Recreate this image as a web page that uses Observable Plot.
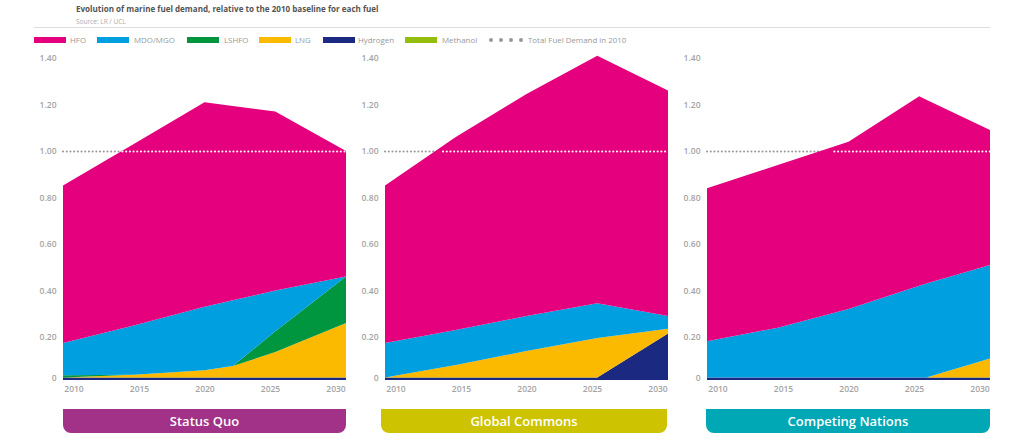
<!DOCTYPE html>
<html><head><meta charset="utf-8">
<script src="https://cdn.jsdelivr.net/npm/d3@7"></script>
<script src="https://cdn.jsdelivr.net/npm/@observablehq/plot@0.6"></script>
<style>
html,body{margin:0;padding:0;background:#fff;overflow:hidden}
body{width:1024px;height:445px;position:relative;font-family:"Open Sans",sans-serif}
#title{position:absolute;left:76px;top:3px;font-size:8.05px;font-weight:700;color:#555;white-space:nowrap}
#source{position:absolute;left:76px;top:17px;font-size:6.5px;color:#aaa}
#rule{position:absolute;left:34px;width:956px;top:27px;height:1px;background:#ddd}
#legend{position:absolute;left:0;top:34px;height:12px;font-size:7.9px;color:#999}
.k{position:absolute;top:0;line-height:13px;white-space:nowrap}
.s{position:absolute;top:3px;height:6px;width:32px}
.d{position:absolute;top:4px;width:4px;height:4px;border-radius:50%;background:#999}
#chart{position:absolute;left:0;top:48px}
.b{position:absolute;top:409px;height:24px;line-height:25px;border-radius:0 0 8px 8px;color:#fff;font-size:13px;font-weight:600;text-align:center}
</style></head><body>
<div id="title"></div><div id="source"></div><div id="rule"></div>
<div id="legend"></div><div id="chart"></div><div id="banners"></div>
<script>
const titleText = "Evolution of marine fuel demand, relative to the 2010 baseline for each fuel";
const sourceText = "Source: LR / UCL";
const fuels = ["Hydrogen","Methanol","LNG","LSHFO","MDO/MGO","HFO"];
const legendFuels = ["HFO","MDO/MGO","LSHFO","LNG","Hydrogen","Methanol"];
const fuelColors = ["#1b2a80","#95bd0e","#fbba00","#009640","#009fe0","#e5007d"];
const scenarios = ["Status Quo","Global Commons","Competing Nations"];
const scenarioColors = ["#a23287","#cdc300","#00a8b5"];
const yTicks = [0.2,0.4,0.6,0.8,1.0,1.2,1.4];
const xTicks = [2010,2015,2020,2025,2030];
const baselineValue = 1;
// year in which total demand first passes the 2010 baseline, per scenario
const crossYears = [2014.2,2014.1,2019];

const sqYears = [2010,2015,2020,2022,2025,2030];
const sqHydrogen = [.012,.012,.012,.012,.012,.012];
const sqMethanol = [0,0,0,0,0,0];
const sqLNG = [0,.013,.033,.053,.118,.248];
const sqLSHFO = [.01,0,0,0,.095,.20];
const sqMDO = [.15,.225,.285,.293,.175,0];
const sqHFO = [.68,.78,.88,.836,.77,.54];

const gcYears = [2010,2015,2020,2025,2030];
const gcHydrogen = [.012,.012,.012,.012,.215];
const gcMethanol = [0,0,0,0,0];
const gcLNG = [0,.058,.123,.183,.02];
const gcLSHFO = [0,0,0,0,0];
const gcMDO = [.16,.16,.155,.15,.055];
const gcHFO = [.68,.83,.955,1.065,.97];

const cnYears = [2010,2015,2020,2025,2025.5,2030];
const cnHydrogen = [.012,.012,.012,.012,.012,.012];
const cnMethanol = [0,0,0,0,0,0];
const cnLNG = [0,0,0,0,0,.088];
const cnLSHFO = [0,0,0,0,0,0];
const cnMDO = [.168,.228,.308,.408,.418,.41];
const cnHFO = [.66,.70,.72,.815,.79,.58];

const panels = [
  [sqYears,[sqHydrogen,sqMethanol,sqLNG,sqLSHFO,sqMDO,sqHFO]],
  [gcYears,[gcHydrogen,gcMethanol,gcLNG,gcLSHFO,gcMDO,gcHFO]],
  [cnYears,[cnHydrogen,cnMethanol,cnLNG,cnLSHFO,cnMDO,cnHFO]]
];
const rows = panels.flatMap(([years,series],p) =>
  series.flatMap((vals,f) => vals.map((v,i) => ({scenario:scenarios[p],fuel:fuels[f],year:years[i],value:v}))));
const tickRows = scenarios.flatMap(s => yTicks.map(v => ({scenario:s,v})));
const zeroRows = scenarios.map(s => ({scenario:s,v:0}));
const whiteRows = scenarios.map((s,i) => ({scenario:s,a:crossYears[i],b:2030}));
const grayRows = scenarios.map(s => ({scenario:s,a:2010,b:2030}));

document.getElementById("title").textContent = titleText;
document.getElementById("source").textContent = sourceText;

const lg = document.getElementById("legend");
legendFuels.forEach((n,i)=>{
  const s=document.createElement("div");s.className="s";
  s.style.left=[34,97,187,259,323,405][i]+"px";
  s.style.background=fuelColors[fuels.indexOf(n)];lg.appendChild(s);
  const t=document.createElement("div");t.className="k";
  t.style.left=[70,134,224,295,358,442][i]+"px";t.textContent=n;lg.appendChild(t);
});
[489,499,509,519].forEach(x=>{const d=document.createElement("div");d.className="d";d.style.left=x+"px";lg.appendChild(d);});
const tl=document.createElement("div");tl.className="k";tl.style.left="528px";tl.textContent="Total Fuel Demand in 2010";lg.appendChild(tl);

const dots = {strokeWidth:2,strokeDasharray:"0.1 3.6",strokeLinecap:"round"};
const chart = Plot.plot({
  width:1024,height:350,
  marginLeft:63,marginRight:34,marginTop:0,marginBottom:0,
  style:{fontFamily:'"Open Sans",sans-serif',background:"transparent"},
  fx:{domain:scenarios,paddingInner:39/322,paddingOuter:0,axis:null},
  x:{domain:[2010,2030],axis:null},
  y:{type:"linear",domain:[0,0.2,1.4],range:[332,289,10],axis:null},
  color:{domain:fuels,range:fuelColors},
  marks:[
    Plot.ruleY(grayRows,{fx:"scenario",y:()=>baselineValue,x1:"a",x2:"b",stroke:"#999",...dots}),
    Plot.areaY(rows,Plot.stackY({x:"year",y:"value",fill:"fuel",z:"fuel",fx:"scenario",order:fuels})),
    Plot.ruleY(whiteRows,{fx:"scenario",y:()=>baselineValue,x1:"a",x2:"b",stroke:"#fff",...dots}),
    Plot.text(tickRows,{fx:"scenario",y:"v",text:d=>d.v.toFixed(2),frameAnchor:"left",textAnchor:"end",dx:-7,fill:"#a3a3a3",fontSize:8.5,fontWeight:600}),
    Plot.text(zeroRows,{fx:"scenario",y:"v",text:()=>"0",frameAnchor:"left",textAnchor:"end",dx:-7,dy:-2,fill:"#a3a3a3",fontSize:8.5,fontWeight:600}),
    // year labels sit slightly inside their true positions, drawn toward the panel centre
    ...xTicks.map(t => Plot.text(scenarios.map(s=>({scenario:s,y:t})),{fx:"scenario",x:"y",text:d=>String(d.y),frameAnchor:"bottom",dy:-7,dx:(2020-t)*1.05,fill:"#a3a3a3",fontSize:8.5,fontWeight:600}))
  ]
});
document.getElementById("chart").appendChild(chart);

const bs=document.getElementById("banners");
scenarios.forEach((n,i)=>{
  const b=document.createElement("div");b.className="b";
  b.style.left=[63,381,706][i]+"px";
  b.style.width=[283,286,284][i]+"px";
  b.style.background=scenarioColors[i];b.textContent=n;bs.appendChild(b);
});
</script></body></html>
